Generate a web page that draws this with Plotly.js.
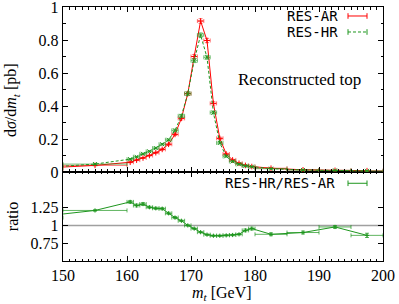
<!DOCTYPE html>
<html>
<head>
<meta charset="utf-8">
<script src="https://cdn.plot.ly/plotly-3.0.1.min.js"></script>
<style>
  html, body { margin: 0; padding: 0; background: #fff; }
  #chart { width: 399px; height: 304px; }
</style>
</head>
<body>
<div id="chart"></div>
<script>
// bin centres and half widths (GeV)
var mtBins = [145, 155, 160.5, 161.5, 162.5, 163.5, 164.5, 165.5, 166.5, 167.5, 168.5, 169.5,
              170.5, 171.5, 172.5, 173.5, 174.5, 175.5, 176.5, 177.5, 178.5, 179.5,
              182.5, 187.5, 192.5, 197.5];
var binHalf = [5, 5, 0.5, 0.5, 0.5, 0.5, 0.5, 0.5, 0.5, 0.5, 0.5, 0.5,
               0.5, 0.5, 0.5, 0.5, 0.5, 0.5, 0.5, 0.5, 0.5, 0.5,
               2.5, 2.5, 2.5, 2.5];

// dsigma/dmt [pb]
var resAR = [0.020, 0.040, 0.059, 0.072, 0.085, 0.100, 0.117, 0.137, 0.168, 0.228, 0.325, 0.475,
             0.700, 0.915, 0.797, 0.416, 0.204, 0.109, 0.073, 0.053, 0.040, 0.033,
             0.023, 0.013, 0.010, 0.008];
var resARerr = [0.002, 0.003, 0.003, 0.003, 0.003, 0.004, 0.004, 0.005, 0.006, 0.007, 0.009, 0.010,
                0.012, 0.014, 0.013, 0.010, 0.007, 0.005, 0.004, 0.003, 0.003, 0.003,
                0.002, 0.002, 0.001, 0.001];
var resHR = [0.022, 0.048, 0.078, 0.092, 0.110, 0.125, 0.145, 0.168, 0.195, 0.252, 0.340, 0.475,
             0.675, 0.830, 0.695, 0.360, 0.176, 0.095, 0.064, 0.047, 0.037, 0.032,
             0.020, 0.012, 0.0098, 0.0068];
var resHRerr = [0.002, 0.003, 0.003, 0.003, 0.004, 0.004, 0.005, 0.005, 0.006, 0.008, 0.009, 0.010,
                0.012, 0.013, 0.012, 0.009, 0.006, 0.005, 0.004, 0.003, 0.003, 0.003,
                0.002, 0.002, 0.001, 0.001];

// RES-HR / RES-AR
var ratio = [1.11, 1.21, 1.33, 1.28, 1.30, 1.255, 1.24, 1.235, 1.17, 1.11, 1.065, 1.00,
             0.955, 0.905, 0.87, 0.855, 0.855, 0.86, 0.865, 0.875, 0.93, 0.955,
             0.875, 0.90, 0.978, 0.86];
var ratioErr = [0.02, 0.01, 0.02, 0.02, 0.02, 0.015, 0.015, 0.015, 0.015, 0.015, 0.01, 0.01,
                0.01, 0.01, 0.01, 0.01, 0.01, 0.01, 0.01, 0.01, 0.02, 0.02,
                0.02, 0.02, 0.02, 0.03];

var upperTicks = [0, 0.2, 0.4, 0.6, 0.8, 1];
var upperLabels = ['0', '0.2', '0.4', '0.6', '0.8', '1'];
var ratioTicks = [0.75, 1, 1.25];
var ratioLabels = ['0.75', '1', '1.25'];
var xTicks = [150, 160, 170, 180, 190, 200];

var red = 'rgb(255,0,0)';
var green = 'rgb(30,150,30)';
var serif = "'Liberation Serif', 'Times New Roman', serif";
var mono = "'DejaVu Sans Mono', 'Liberation Mono', monospace";

var traces = [
  {
    x: mtBins, y: resAR, xaxis: 'x2', yaxis: 'y', type: 'scatter', mode: 'lines+markers',
    line: {color: red, width: 1},
    marker: {symbol: 'cross-thin', size: 4, color: red, line: {color: red, width: 1}},
    error_x: {type: 'data', array: binHalf, color: 'rgba(255,60,60,0.7)', thickness: 1, width: 2},
    error_y: {type: 'data', array: resARerr, color: 'rgba(255,60,60,0.7)', thickness: 1, width: 2}
  },
  {
    x: mtBins, y: resHR, xaxis: 'x2', yaxis: 'y', type: 'scatter', mode: 'lines+markers',
    line: {color: green, width: 1, dash: '3px,2px'},
    marker: {symbol: 'x-thin', size: 4, color: green, line: {color: green, width: 1}},
    error_x: {type: 'data', array: binHalf, color: 'rgba(30,150,30,0.6)', thickness: 1, width: 2},
    error_y: {type: 'data', array: resHRerr, color: 'rgba(30,150,30,0.6)', thickness: 1, width: 2}
  },
  {
    x: [150, 200], y: [1, 1], xaxis: 'x', yaxis: 'y2', type: 'scatter', mode: 'lines',
    line: {color: 'rgb(160,160,160)', width: 1.5}, hoverinfo: 'skip'
  },
  {
    x: mtBins, y: ratio, xaxis: 'x', yaxis: 'y2', type: 'scatter', mode: 'lines+markers',
    line: {color: green, width: 1},
    marker: {symbol: 'cross-thin', size: 3, color: green, line: {color: green, width: 1}},
    error_x: {type: 'data', array: binHalf, color: 'rgba(30,150,30,0.7)', thickness: 1, width: 2},
    error_y: {type: 'data', array: ratioErr, color: 'rgba(30,150,30,0.7)', thickness: 1, width: 2}
  }
];

var axisCommon = {
  showline: true, linecolor: 'black', linewidth: 1.2, mirror: 'allticks',
  ticks: 'inside', ticklen: 5, tickcolor: 'black', showgrid: false, zeroline: false,
  ticklabeloverflow: 'allow',
  tickfont: {family: serif, size: 16, color: 'black'}
};

var layout = {
  width: 399, height: 304,
  margin: {l: 63, r: 16, t: 7, b: 43},
  paper_bgcolor: 'white', plot_bgcolor: 'white',
  font: {family: serif, size: 16, color: 'black'},
  showlegend: false,
  xaxis: Object.assign({}, axisCommon, {
    range: [150, 200], anchor: 'y2', tickvals: xTicks,
    minor: {dtick: 1, ticks: 'inside', ticklen: 2.5, tickcolor: 'black'}
  }),
  xaxis2: Object.assign({}, axisCommon, {
    range: [150, 200], anchor: 'y', matches: 'x', tickvals: xTicks, showticklabels: false,
    minor: {dtick: 1, ticks: 'inside', ticklen: 2.5, tickcolor: 'black'}
  }),
  yaxis: Object.assign({}, axisCommon, {
    range: [0, 1], domain: [0.3504, 1], anchor: 'x2',
    tickvals: upperTicks, ticktext: upperLabels,
    minor: {dtick: 0.1, ticks: 'inside', ticklen: 2.5, tickcolor: 'black'}
  }),
  yaxis2: Object.assign({}, axisCommon, {
    range: [0.5, 1.75], domain: [0, 0.3504], anchor: 'x',
    tickvals: ratioTicks, ticktext: ratioLabels
  }),
  annotations: [
    {text: 'd<i>σ</i>/d<i>m<sub>t</sub></i> [pb]', xref: 'paper', yref: 'paper', x: -0.159, y: 0.634,
     textangle: -90, showarrow: false, xanchor: 'center', yanchor: 'middle',
     font: {family: serif, size: 16, color: 'black'}},
    {text: 'ratio', xref: 'paper', yref: 'paper', x: -0.159, y: 0.173,
     textangle: -90, showarrow: false, xanchor: 'center', yanchor: 'middle',
     font: {family: serif, size: 16, color: 'black'}},
    {text: '<i>m<sub>t</sub></i> [GeV]', xref: 'paper', yref: 'paper', x: 0.498, y: -0.126,
     showarrow: false, xanchor: 'center', yanchor: 'middle',
     font: {family: serif, size: 16, color: 'black'}},
    {text: 'Reconstructed top', xref: 'paper', yref: 'paper', x: 0.7406, y: 0.7126,
     showarrow: false, xanchor: 'center', yanchor: 'middle',
     font: {family: serif, size: 17, color: 'black'}},
    {text: 'RES-AR', xref: 'paper', yref: 'paper', x: 0.8656, y: 0.9646,
     showarrow: false, xanchor: 'right', yanchor: 'middle',
     font: {family: mono, size: 14, color: 'black'}},
    {text: 'RES-HR', xref: 'paper', yref: 'paper', x: 0.8656, y: 0.9016,
     showarrow: false, xanchor: 'right', yanchor: 'middle',
     font: {family: mono, size: 14, color: 'black'}},
    {text: 'RES-HR/RES-AR', xref: 'paper', yref: 'paper', x: 0.856, y: 0.306,
     showarrow: false, xanchor: 'right', yanchor: 'middle',
     font: {family: mono, size: 14, color: 'black'}}
  ]
};

// key samples: line with end caps, as gnuplot draws them
var keyRows = [
  {y: 0.9646, color: red, dash: 'solid'},
  {y: 0.9016, color: green, dash: '3px,2px'},
  {y: 0.306, color: green, dash: 'solid'}
];
var x0 = (348 - 63) / 320, x1 = (367 - 63) / 320, cap = 0.011;
layout.shapes = [];
keyRows.forEach(function(k) {
  layout.shapes.push({type: 'line', xref: 'paper', yref: 'paper', x0: x0, x1: x1, y0: k.y, y1: k.y,
                      line: {color: k.color, width: 1, dash: k.dash}});
  [x0, x1].forEach(function(xx) {
    layout.shapes.push({type: 'line', xref: 'paper', yref: 'paper', x0: xx, x1: xx, y0: k.y - cap, y1: k.y + cap,
                        line: {color: k.color, width: 1}});
  });
});

Plotly.newPlot('chart', traces, layout, {displayModeBar: false, staticPlot: true});
</script>
</body>
</html>
